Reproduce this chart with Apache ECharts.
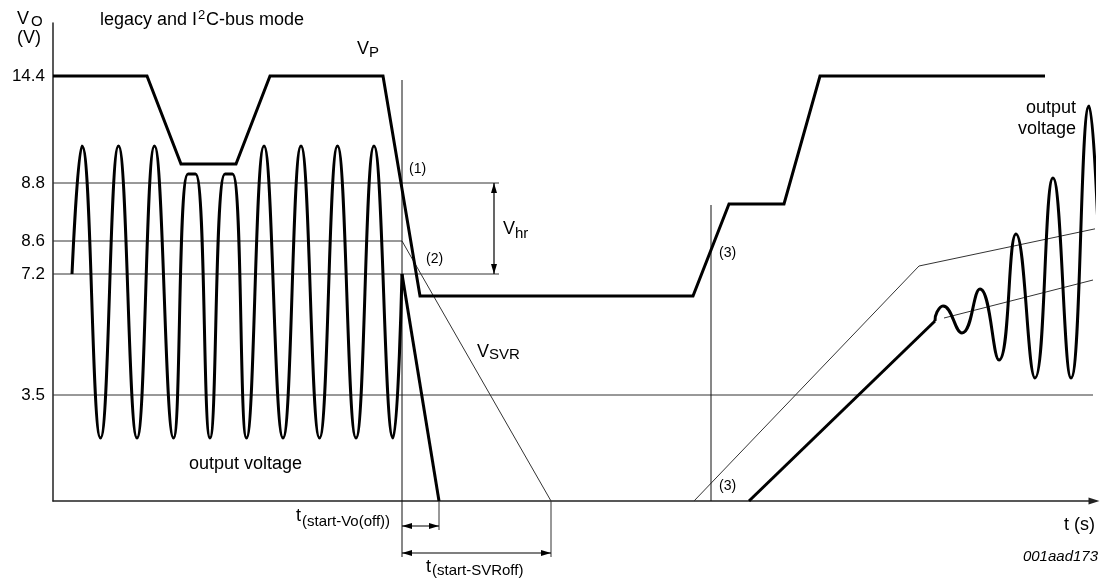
<!DOCTYPE html>
<html>
<head>
<meta charset="utf-8">
<title>legacy and I2C-bus mode</title>
<style>
  html, body { margin: 0; padding: 0; background: #fff; }
  #chart { width: 1104px; height: 581px; }
</style>
<script src="https://cdn.jsdelivr.net/npm/echarts@6/dist/echarts.min.js"></script>
</head>
<body>
<div id="chart"></div>
<script>
// schematic units: x = time, y = voltage level (diagram is not to scale)
const yTicks = [425, 318, 260, 227, 106];
const yTickLabels = ['14.4', '8.8', '8.6', '7.2', '3.5'];

// supply voltage V_P
const vpSupply = [[0, 425], [94, 425], [128, 337], [183, 337], [217, 425], [330, 425],
  [367, 205], [640, 205], [676, 297], [731, 297], [767, 425], [992, 425]];

// output voltage before switch-off (peak / valley points)
const voBefore = [[19, 227], [29, 355], [47.5, 63], [65.5, 355], [84, 63], [101.5, 355],
  [120.5, 63], [135, 327], [142.5, 327], [157, 63], [172, 327], [179.5, 327], [193.5, 63],
  [211, 355], [230, 63], [248, 355], [266.5, 63], [284.5, 355], [303, 63], [321, 355],
  [340, 63], [349, 227]];
const voDrop = [[349, 227], [386, 0]];

// output voltage after switch-on
const voRamp = [[696, 0], [882, 180]];
const voAfter = [[882, 180], [884, 189], [890, 195], [909, 168], [927, 212], [946, 141],
  [963, 267], [982, 123], [1000, 323], [1018, 123], [1036, 395], [1046, 248]];

// V_SVR and reference levels
const svrFall = [[0, 260], [349, 260], [498, 0]];
const svrRise = [[641, 0], [866, 235], [1046, 273]];
const voMid = [[891, 183], [1040, 221]];
const level88 = [[0, 318], [446, 318]];
const level72 = [[0, 227], [446, 227]];
const level35 = [[0, 106], [1040, 106]];
const markOff = [[349, 421], [349, -56]];
const markOn = [[658, 296], [658, 0]];
const tickVoOff = [[386, 0], [386, -29]];
const tickSvrOff = [[498, 0], [498, -56]];
const spanVoOff = [[349, -25], [386, -25]];
const spanSvrOff = [[349, -52], [498, -52]];
const spanVhr = [[441, 318], [441, 227]];

const FONT = '"Liberation Sans", Arial, Helvetica, sans-serif';
const chart = echarts.init(document.getElementById('chart'), null, { renderer: 'canvas' });

function path(name, data, width, extra) {
  return Object.assign({
    name: name,
    type: 'line',
    data: data,
    symbol: 'none',
    showSymbol: false,
    clip: false,
    silent: true,
    animation: false,
    lineStyle: { width: width, color: width > 2 ? '#000' : '#333', join: 'miter' }
  }, extra || {});
}

// double-headed dimension arrow, horizontal or vertical
function span(name, pts) {
  const horiz = pts[0][1] === pts[1][1];
  const a = horiz ? { symbolRotate: 90, symbolOffset: [5, 0] } : { symbolRotate: 0, symbolOffset: [0, 5] };
  const b = horiz ? { symbolRotate: -90, symbolOffset: [-5, 0] } : { symbolRotate: 180, symbolOffset: [0, -5] };
  return path(name, [
    Object.assign({ value: pts[0], symbol: 'triangle' }, a),
    Object.assign({ value: pts[1], symbol: 'triangle' }, b)
  ], 1, {
    showSymbol: true,
    symbolSize: [6, 10],
    itemStyle: { color: '#000' },
    lineStyle: { width: 1.2, color: '#000' }
  });
}

function txt(x, y, s, size, extra) {
  return {
    type: 'text', x: x, y: y, silent: true,
    style: Object.assign({
      text: s, fontSize: size, fontFamily: FONT, fill: '#000',
      align: 'left', verticalAlign: 'middle'
    }, extra || {})
  };
}

const option = {
  animation: false,
  grid: { left: 53, right: 10, top: 23, bottom: 80 },
  xAxis: {
    type: 'value', min: 0, max: 1041,
    axisLine: { lineStyle: { color: '#222', width: 1.5 }, symbol: ['none', 'triangle'], symbolSize: [7, 11] },
    axisTick: { show: false }, axisLabel: { show: false }, splitLine: { show: false }
  },
  yAxis: {
    type: 'value', min: 0, max: 478,
    axisLine: { show: true, lineStyle: { color: '#222', width: 1.5 } },
    axisTick: { show: false },
    splitLine: { show: false },
    axisLabel: {
      customValues: yTicks,
      formatter: function (v) { return yTickLabels[yTicks.indexOf(v)]; },
      fontSize: 17, fontFamily: FONT, color: '#000', margin: 8
    }
  },
  series: [
    path('8.8 V', level88, 1),
    path('7.2 V', level72, 1),
    path('3.5 V', level35, 1),
    path('VSVR off', svrFall, 1),
    path('VSVR on', svrRise, 1),
    path('Vo mid', voMid, 1),
    path('off marker', markOff, 1, { lineStyle: { width: 1, color: '#111' } }),
    path('on marker', markOn, 1, { lineStyle: { width: 1, color: '#111' } }),
    path('tick Vo', tickVoOff, 1),
    path('tick SVR', tickSvrOff, 1),
    span('t start-Vo(off)', spanVoOff),
    span('t start-SVRoff', spanSvrOff),
    span('Vhr', spanVhr),
    path('VP', vpSupply, 3),
    path('Vo before', voBefore, 3, { smooth: 0.48 }),
    path('Vo drop', voDrop, 3),
    path('Vo ramp', voRamp, 3),
    path('Vo after', voAfter, 3, { smooth: 0.48 })
  ],
  graphic: [
    txt(17, 19, 'V', 18), txt(31, 22, 'O', 15),
    txt(17, 38, '(V)', 18),
    txt(100, 20, 'legacy and I', 18), txt(198, 15, '2', 13), txt(206, 20, 'C-bus mode', 18),
    txt(357, 49, 'V', 18), txt(369, 53, 'P', 15),
    txt(409, 169, '(1)', 14),
    txt(426, 259, '(2)', 14),
    txt(503, 229, 'V', 18), txt(515, 234, 'hr', 15),
    txt(719, 253, '(3)', 14),
    txt(719, 486, '(3)', 14),
    txt(477, 352, 'V', 18), txt(489, 355, 'SVR', 15),
    txt(189, 464, 'output voltage', 18),
    txt(1076, 108, 'output', 18, { align: 'right' }),
    txt(1076, 129, 'voltage', 18, { align: 'right' }),
    txt(1064, 525, 't (s)', 18),
    txt(1098, 557, '001aad173', 15, { align: 'right', fontStyle: 'italic' }),
    txt(296, 516, 't', 18), txt(302, 522, '(start-Vo(off))', 15),
    txt(426, 567, 't', 18), txt(432, 571, '(start-SVRoff)', 15)
  ]
};

chart.setOption(option);
window.addEventListener('resize', chart.resize);
</script>
</body>
</html>
